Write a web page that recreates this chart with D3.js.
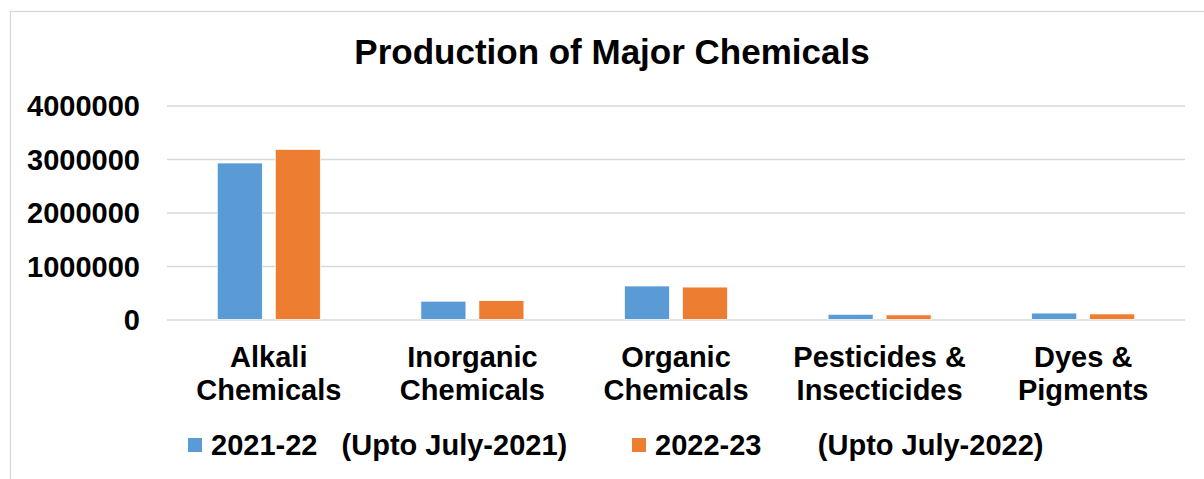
<!DOCTYPE html>
<html>
<head>
<meta charset="utf-8">
<script src="https://cdn.jsdelivr.net/npm/d3@7"></script>
<style>
  body { margin: 0; background: #fff; }
  svg { font-family: "Liberation Sans", Arial, sans-serif; font-weight: bold; }
  text { white-space: pre; }
</style>
</head>
<body>
<svg id="chart" width="1204" height="479"></svg>
<script>
// Data
const categories = ['Alkali Chemicals', 'Inorganic Chemicals', 'Organic Chemicals', 'Pesticides & Insecticides', 'Dyes & Pigments'];
const categoryLines = [['Alkali', 'Chemicals'], ['Inorganic', 'Chemicals'], ['Organic', 'Chemicals'], ['Pesticides &', 'Insecticides'], ['Dyes &', 'Pigments']];
const series = ['2021-22', '2022-23'];
const seriesLabels = ['2021-22   (Upto July-2021)', '2022-23       (Upto July-2022)'];
const values2021 = [2925000, 342000, 626000, 97000, 120000];
const values2022 = [3180000, 352000, 606000, 86000, 104000];
const yTicks = [0, 1000000, 2000000, 3000000, 4000000];
const colors = ['#5b9bd5', '#ed7d31'];

const svg = d3.select('#chart');

// outer chart frame (light grey)
svg.append('rect')
  .attr('x', 10.5).attr('y', 11.5)
  .attr('width', 1210).attr('height', 490)
  .attr('fill', 'none')
  .attr('stroke', '#d9d9d9')
  .attr('stroke-width', 1.3);

// title
svg.append('text')
  .attr('x', 612).attr('y', 64)
  .attr('text-anchor', 'middle')
  .attr('font-size', 35)
  .attr('fill', '#000')
  .text('Production of Major Chemicals');

const plot = { left: 167, right: 1185, top: 105.5, bottom: 319.5 };

const y = d3.scaleLinear()
  .domain([0, 4000000])
  .range([plot.bottom, plot.top]);

const x0 = d3.scaleBand()
  .domain(categories)
  .range([plot.left, plot.right]);

const x1 = d3.scaleBand()
  .domain(series)
  .range([0, x0.bandwidth()])
  .paddingInner(0.224)
  .paddingOuter(0.867);

// gridlines + y labels
const yAxis = svg.append('g')
  .attr('transform', `translate(${plot.left},0)`)
  .call(d3.axisLeft(y)
    .tickValues(yTicks)
    .tickFormat(d3.format('d'))
    .tickSize(-(plot.right - plot.left))
    .tickPadding(27));

yAxis.select('.domain').remove();
yAxis.selectAll('.tick line')
  .attr('stroke', '#d9d9d9')
  .attr('stroke-width', 1.5);
yAxis.selectAll('.tick text')
  .attr('font-size', 29)
  .attr('font-family', '"Liberation Sans", Arial, sans-serif')
  .attr('font-weight', 'bold')
  .attr('fill', '#000')
  .attr('dy', '0.36em');

// bars
const rows = categories.map((c, i) => ({ cat: c, vals: [values2021[i], values2022[i]] }));

const groups = svg.append('g')
  .selectAll('g')
  .data(rows)
  .join('g')
  .attr('transform', d => `translate(${x0(d.cat)},0)`);

groups.selectAll('rect')
  .data(d => d.vals.map((v, j) => ({ s: series[j], v: v, j: j })))
  .join('rect')
  .attr('x', d => x1(d.s))
  .attr('width', x1.bandwidth())
  .attr('y', d => y(d.v))
  .attr('height', d => y(0) - y(d.v))
  .attr('fill', d => colors[d.j])
  .attr('stroke', '#fff')
  .attr('stroke-width', 0.7);

// x category labels, two lines each
const xAxis = svg.append('g')
  .attr('transform', `translate(0,${plot.bottom})`)
  .call(d3.axisBottom(x0).tickSize(0).tickFormat(''));
xAxis.select('.domain').remove();

xAxis.selectAll('.tick')
  .append('text')
  .attr('text-anchor', 'middle')
  .attr('font-size', 29)
  .attr('fill', '#000')
  .selectAll('tspan')
  .data((d, i) => categoryLines[i])
  .join('tspan')
  .attr('x', 0)
  .attr('y', (d, i) => 47 + i * 33)
  .text(d => d);

// legend
const legendX = [188, 632];
const legend = svg.append('g')
  .selectAll('g')
  .data(seriesLabels)
  .join('g')
  .attr('transform', (d, i) => `translate(${legendX[i]},438)`);

legend.append('rect')
  .attr('width', 14).attr('height', 14)
  .attr('fill', (d, i) => colors[i]);

legend.append('text')
  .attr('x', 23).attr('y', 17)
  .attr('font-size', 29)
  .attr('fill', '#000')
  .text(d => d);
</script>
</body>
</html>
